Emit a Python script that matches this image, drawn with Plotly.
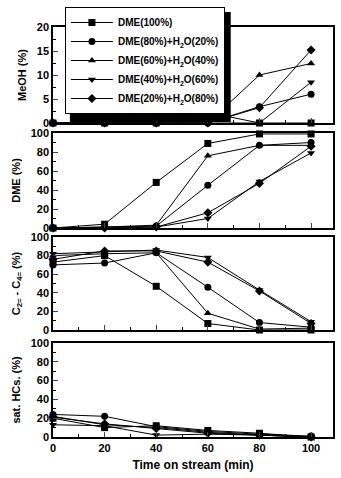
import plotly.graph_objects as go

time = [0, 20, 40, 60, 80, 100]
names = ["DME(100%)", "DME(80%)+H<sub>2</sub>O(20%)", "DME(60%)+H<sub>2</sub>O(40%)",
         "DME(40%)+H<sub>2</sub>O(60%)", "DME(20%)+H<sub>2</sub>O(80%)"]
symbols = ["square", "circle", "triangle-up", "triangle-down", "diamond"]

meoh = [
    [0, 0, 0, 2.2, 0, 0],
    [0, 0, 0, 0, 3.4, 6.0],
    [0, 0, 0, 0, 10.0, 12.4],
    [0, 0, 0, 0, 0, 8.5],
    [0, 0, 0, 0, 3.2, 15.2],
]
dme = [
    [0, 4, 48, 89, 99, 99],
    [0, 1, 2, 45, 87, 90],
    [0, 1, 3, 76, 87, 87],
    [0, 0, 1, 10, 49, 79],
    [0, 0, 1, 16, 47, 86],
]
olef = [
    [73, 80, 47, 7, 0, 0],
    [70, 72, 83, 46, 8, 3],
    [80, 82, 83, 18, 1, 2],
    [82, 84, 86, 78, 43, 9],
    [76, 85, 85, 73, 42, 7],
]
sat = [
    [20, 10, 12, 7, 4, 0],
    [24, 22, 11, 6, 3, 1],
    [22, 13, 10, 5, 2, 0],
    [13, 12, 2, 3, 2, 0],
    [21, 14, 9, 4, 2, 0],
]
panels = [meoh, dme, olef, sat]
ytitles = ["MeOH (%)", "DME (%)", "C<sub>2=</sub> - C<sub>4=</sub> (%)", "sat. HCs. (%)"]
yranges = [[0, 20], [0, 100], [0, 100], [0, 100]]
ydticks = [5, 20, 20, 20]

H, W = 478, 341
t, b = 27, 41
ph = H - t - b
pw = W - 53 - 6
def py(pix):
    return (H - b - pix) / ph
def px(pix):
    return (pix - 53) / pw

domains = [[py(123), 1.0], [py(228), py(133)], [py(330), py(237)], [py(437), py(343)]]

fig = go.Figure()
for p, data in enumerate(panels):
    for i, ser in enumerate(data):
        fig.add_trace(go.Scatter(
            x=time, y=ser, mode="lines+markers", name=names[i],
            line=dict(color="black", width=1),
            marker=dict(symbol=symbols[i], size=7, color="black"),
            showlegend=(p == 0),
            xaxis="x" if p == 0 else f"x{p+1}",
            yaxis="y" if p == 0 else f"y{p+1}",
            cliponaxis=False,
        ))

font = dict(family="Liberation Sans, Arial, sans-serif", size=12, color="black", weight="bold")
layout = dict(
    width=W, height=H, margin=dict(l=53, r=6, t=t, b=b),
    paper_bgcolor="white", plot_bgcolor="white",
    font=font, showlegend=True,
    legend=dict(x=px(65), y=py(7), xanchor="left", yanchor="top",
                bgcolor="white", bordercolor="black", borderwidth=1,
                font=dict(size=10, family="Liberation Sans, Arial", weight="bold"),
                tracegroupgap=0, itemwidth=42),
)
for p in range(4):
    xa = "xaxis" if p == 0 else f"xaxis{p+1}"
    ya = "yaxis" if p == 0 else f"yaxis{p+1}"
    layout[xa] = dict(
        domain=[0, 1], range=[0, 108.5], anchor="y" if p == 0 else f"y{p+1}",
        tickvals=time, ticks="inside", ticklen=5, showline=True, linecolor="black",
        linewidth=1.5, mirror=True, showgrid=False, zeroline=False,
        showticklabels=(p == 3),
        minor=dict(dtick=10, tick0=0, ticks="inside", ticklen=3, tickcolor="black"),
        tickfont=dict(size=11),
    )
    if p == 3:
        layout[xa]["title"] = dict(text="Time on stream (min)", font=dict(size=12), standoff=8)
    layout[ya] = dict(
        domain=domains[p], range=yranges[p], anchor="x" if p == 0 else f"x{p+1}",
        dtick=ydticks[p], tick0=0, ticks="inside", ticklen=5, showline=True,
        linecolor="black", linewidth=1.5, mirror=True, showgrid=False, zeroline=False,
        minor=dict(dtick=ydticks[p] / 2, ticks="inside", ticklen=3, tickcolor="black"),
        tickfont=dict(size=11),
        title=dict(text=ytitles[p], font=dict(size=11), standoff=8),
    )
layout["shapes"] = [dict(type="rect", xref="paper", yref="paper",
                         x0=px(70), x1=px(232),
                         y0=py(122), y1=py(12), fillcolor="black",
                         line=dict(width=0), layer="above")]
fig.update_layout(**layout)
fig.write_html("out.html")
